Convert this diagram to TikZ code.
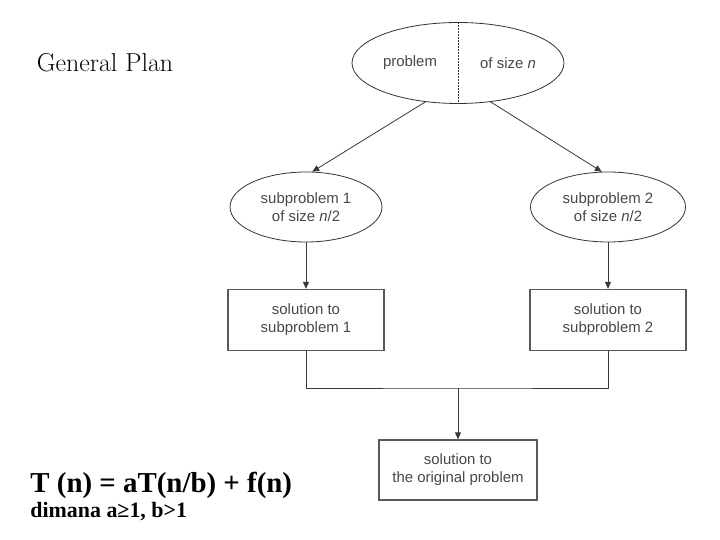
\documentclass[tikz,border=0pt]{standalone}
\usepackage{fontspec}
\usepackage{tikz}
\usetikzlibrary{shapes.geometric, arrows.meta}
\newfontfamily\plansans{Liberation Sans}
\newfontfamily\planserif{Liberation Serif}

\begin{document}
\begin{tikzpicture}[x=1bp, y=-1bp, line width=0.8bp, draw=black!78,
        >={Triangle[length=7bp, width=6bp]},
        txt/.style={text=black!72, font=\plansans\fontsize{15}{18}\selectfont, align=center, inner sep=0pt},
        oval/.style={draw=black!80, ellipse, inner sep=0pt},
        solbox/.style={draw=black!65, line width=1.3bp, minimum width=156bp, minimum height=61bp, inner sep=0pt}]
        \useasboundingbox (0, 0) rectangle (720, 540);

        \node[font=\rmfamily\fontsize{26}{30}\selectfont] (title) at (105, 63) {General Plan};

        \node[oval, minimum width=212bp, minimum height=81bp] (prob) at (458, 63) {};
        \node[txt] (probL) at (410, 63) {problem};
        \node[txt] (probR) at (508, 63) {of size \textit{n}};
        \draw[dashed, dash pattern=on 1.5bp off 1.5bp] (prob.north) -- (prob.south);

        \node[oval, txt, draw=black!80, minimum width=152bp, minimum height=70bp] (sub1) at (306, 207) {subproblem 1\\of size \textit{n}/2};
        \node[oval, txt, draw=black!80, minimum width=155bp, minimum height=70bp] (sub2) at (608, 207) {subproblem 2\\of size \textit{n}/2};

        \node[solbox, txt] (sol1) at (306, 320) {solution to\\subproblem 1};
        \node[solbox, txt] (sol2) at (608, 320) {solution to\\subproblem 2};
        \node[solbox, txt, minimum width=158bp, minimum height=60bp] (final) at (458, 470) {solution to\\the original problem};
        \coordinate (join) at (458, 388);

        \draw[->] (prob.230) -- (sub1.80);
        \draw[->] (prob.310) -- (sub2.100);
        \draw[->] (sub1) -- (sol1);
        \draw[->] (sub2) -- (sol2);
        \draw (sol1.south) |- (join) -| (sol2.south);
        \draw[->] (join) -- (final);

        \node[anchor=base west, inner sep=0pt, font=\planserif\bfseries\fontsize{29}{33}\selectfont] (rec) at (30, 492) {T (n) = aT(n/b) + f(n)};
        \node[anchor=base west, inner sep=0pt, font=\planserif\bfseries\fontsize{22}{25}\selectfont] (cond) at (30, 517) {dimana a≥1, b>1};
      \end{tikzpicture}
\end{document}
